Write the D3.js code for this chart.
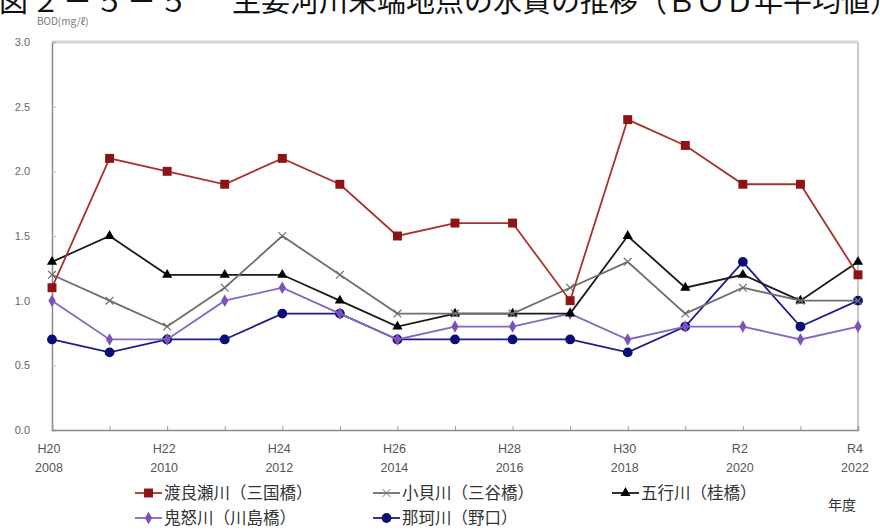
<!DOCTYPE html>
<html>
<head>
<meta charset="utf-8">
<script src="https://cdn.jsdelivr.net/npm/d3@7"></script>
<style>
  body { margin: 0; background: #fff; }
  svg { display: block; font-family: "Noto Sans CJK JP", "Noto Sans", sans-serif; }
</style>
</head>
<body>
<div id="chart"></div>
<script>
const years = ["H20","H21","H22","H23","H24","H25","H26","H27","H28","H29","H30","R1","R2","R3","R4"];
const tickTop = ["H20","H22","H24","H26","H28","H30","R2","R4"];
const tickBottom = ["2008","2010","2012","2014","2016","2018","2020","2022"];
const yTicks = [0, 0.5, 1.0, 1.5, 2.0, 2.5, 3.0];

const watarase = [1.1, 2.1, 2.0, 1.9, 2.1, 1.9, 1.5, 1.6, 1.6, 1.0, 2.4, 2.2, 1.9, 1.9, 1.2];
const kokai    = [1.2, 1.0, 0.8, 1.1, 1.5, 1.2, 0.9, 0.9, 0.9, 1.1, 1.3, 0.9, 1.1, 1.0, 1.0];
const gogyo    = [1.3, 1.5, 1.2, 1.2, 1.2, 1.0, 0.8, 0.9, 0.9, 0.9, 1.5, 1.1, 1.2, 1.0, 1.3];
const kinu     = [1.0, 0.7, 0.7, 1.0, 1.1, 0.9, 0.7, 0.8, 0.8, 0.9, 0.7, 0.8, 0.8, 0.7, 0.8];
const naka     = [0.7, 0.6, 0.7, 0.7, 0.9, 0.9, 0.7, 0.7, 0.7, 0.7, 0.6, 0.8, 1.3, 0.8, 1.0];

const series = [
  { name: "渡良瀬川（三国橋）", values: watarase, line: "#a8322e", fill: "#8e1414", shape: "square" },
  { name: "小貝川（三谷橋）",   values: kokai,    line: "#6e6e6e", fill: "#6e6e6e", shape: "cross" },
  { name: "五行川（桂橋）",     values: gogyo,    line: "#1a1a1a", fill: "#000000", shape: "triangle" },
  { name: "鬼怒川（川島橋）",   values: kinu,     line: "#8466c4", fill: "#7a52b8", shape: "diamond" },
  { name: "那珂川（野口）",     values: naka,     line: "#1c1c8c", fill: "#0c0c78", shape: "circle" }
];

const W = 880, H = 530;
const margin = { top: 42, right: 22, bottom: 100, left: 52 },
      width  = W - margin.left - margin.right,
      height = H - margin.top - margin.bottom;

const svg = d3.select("#chart").append("svg")
  .attr("width", W).attr("height", H);

// title, cut off at the top edge like the source image
svg.append("text")
  .attr("x", -1).attr("y", 12)
  .attr("font-size", 29).attr("letter-spacing", 3)
  .attr("fill", "#111")
  .text("図２－５－５");
svg.append("text")
  .attr("x", 232).attr("y", 12)
  .attr("font-size", 29)
  .attr("fill", "#111")
  .text("主要河川末端地点の水質の推移（ＢＯＤ年平均値）");

svg.append("text")
  .attr("x", 37).attr("y", 25)
  .attr("font-size", 10)
  .attr("fill", "#777")
  .text("BOD(mg/ℓ)");

const g = svg.append("g").attr("transform", `translate(${margin.left},${margin.top})`);

const x = d3.scalePoint().domain(years).range([0, width]);
const y = d3.scaleLinear().domain([0, 3]).range([height, 0]);

// frame
g.append("line").attr("x1", 0).attr("x2", width).attr("y1", 0).attr("y2", 0)
  .attr("stroke", "#d6d6d6").attr("stroke-width", 3);
g.append("line").attr("x1", width).attr("x2", width).attr("y1", 0).attr("y2", height)
  .attr("stroke", "#c8c8c8").attr("stroke-width", 2);

// y axis
const yAxis = g.append("g")
  .call(d3.axisLeft(y).tickValues(yTicks).tickSize(-4).tickPadding(22).tickFormat(d3.format(".1f")));
yAxis.select(".domain").attr("stroke", "#8a8a8a").attr("stroke-width", 1.5);
yAxis.selectAll(".tick line").attr("stroke", "#bbb");
yAxis.selectAll(".tick text").attr("fill", "#666").attr("font-size", 11)
  .attr("font-family", "Liberation Sans, sans-serif");

// x axis
const xAxis = g.append("g")
  .attr("transform", `translate(0,${height})`)
  .call(d3.axisBottom(x).tickSize(-4).tickFormat(""));
xAxis.select(".domain").attr("stroke", "#8a8a8a").attr("stroke-width", 1.5);
xAxis.selectAll(".tick line").attr("stroke", "#999");

const xl = g.append("g").attr("font-size", 12.5).attr("fill", "#555")
  .attr("font-family", "Liberation Sans, sans-serif").attr("text-anchor", "middle");
xl.selectAll("text.t1").data(tickTop).join("text")
  .attr("class", "t1")
  .attr("x", d => x(d) - 3).attr("y", height + 23)
  .text(d => d);
xl.selectAll("text.t2").data(tickBottom).join("text")
  .attr("class", "t2")
  .attr("x", (d, i) => x(tickTop[i]) - 3).attr("y", height + 42)
  .text(d => d);

const symbolFor = s => ({
  square: d3.symbolSquare, cross: d3.symbolTimes, triangle: d3.symbolTriangle,
  diamond: d3.symbolDiamond, circle: d3.symbolCircle
})[s];
const sizeFor = s => ({ square: 80, cross: 40, triangle: 45, diamond: 45, circle: 75 })[s];

const line = d3.line().x((d, i) => x(years[i])).y(d => y(d));

// draw bottom-most first so red ends on top
series.slice().reverse().forEach(s => {
  const sg = g.append("g");
  sg.append("path").datum(s.values)
    .attr("fill", "none").attr("stroke", s.line).attr("stroke-width", 1.8)
    .attr("d", line);
  sg.selectAll("path.m").data(s.values).join("path")
    .attr("class", "m")
    .attr("transform", (d, i) => `translate(${x(years[i])},${y(d)})`)
    .attr("d", d3.symbol(symbolFor(s.shape), sizeFor(s.shape)))
    .attr("fill", s.fill)
    .attr("stroke", s.shape === "cross" ? s.fill : "none")
    .attr("stroke-width", 1.2);
});

// legend
const legendPos = [
  { x: 135, y: 493 }, { x: 373, y: 493 }, { x: 612, y: 493 },
  { x: 135, y: 518 }, { x: 373, y: 518 }
];
series.forEach((s, i) => {
  const p = legendPos[i];
  const lg = svg.append("g").attr("transform", `translate(${p.x},${p.y})`);
  lg.append("line").attr("x1", 0).attr("x2", 27).attr("y1", 0).attr("y2", 0)
    .attr("stroke", s.line).attr("stroke-width", 1.8);
  lg.append("path").attr("transform", "translate(13.5,0)")
    .attr("d", d3.symbol(symbolFor(s.shape), sizeFor(s.shape)))
    .attr("fill", s.fill)
    .attr("stroke", s.shape === "cross" ? s.fill : "none");
  lg.append("text").attr("x", 29).attr("y", 6)
    .attr("font-size", 16.5).attr("fill", "#333")
    .text(s.name);
});

svg.append("text").attr("x", 828).attr("y", 510)
  .attr("font-size", 14).attr("fill", "#333")
  .text("年度");
</script>
</body>
</html>
